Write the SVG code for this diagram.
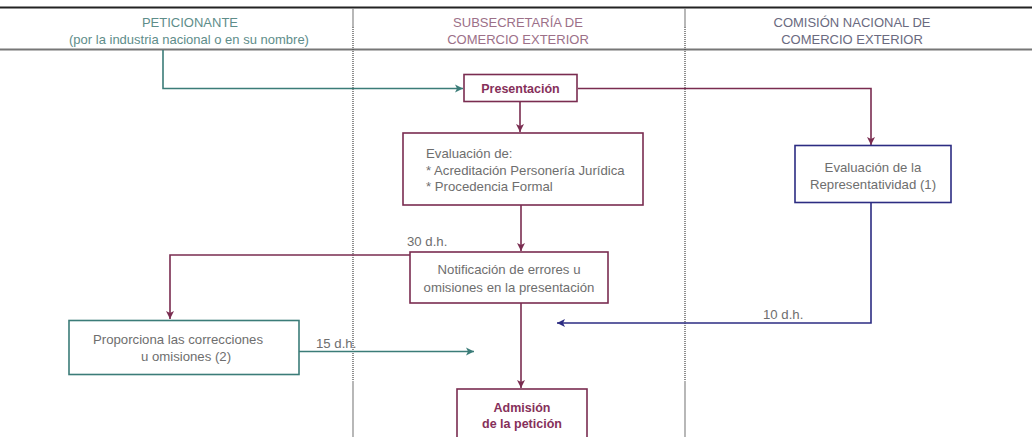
<svg xmlns="http://www.w3.org/2000/svg" width="1032" height="437" viewBox="0 0 1032 437">
<style>
text{font-family:"Liberation Sans",Arial,sans-serif;font-size:13.2px;fill:#6e6e6e}
.hdr{font-size:13px}
.b{font-weight:bold;fill:#86305a;font-size:12.5px}
.m{fill:none;stroke:#7a2c50;stroke-width:1.6}
.t{fill:none;stroke:#3b7c78;stroke-width:1.6}
.n{fill:none;stroke:#2c2c82;stroke-width:1.6}
.box{fill:#fff}
</style>
<defs>
<marker id="am" markerWidth="10" markerHeight="10" refX="9" refY="5" orient="auto" markerUnits="userSpaceOnUse"><path d="M1,1 L9,5 L1,9 L3,5 Z" fill="#7a2c50"/></marker>
<marker id="at" markerWidth="10" markerHeight="10" refX="9" refY="5" orient="auto" markerUnits="userSpaceOnUse"><path d="M1,1 L9,5 L1,9 L3,5 Z" fill="#3b7c78"/></marker>
<marker id="an" markerWidth="10" markerHeight="10" refX="9" refY="5" orient="auto" markerUnits="userSpaceOnUse"><path d="M1,1 L9,5 L1,9 L3,5 Z" fill="#2c2c82"/></marker>
</defs>
<rect width="1032" height="437" fill="#fff"/>
<g id="lanes">
<line x1="0" y1="7.5" x2="1032" y2="7.5" stroke="#222" stroke-width="2"/>
<line x1="0" y1="49.5" x2="1032" y2="49.5" stroke="#777" stroke-width="2"/>
<line x1="353" y1="8" x2="353" y2="27" stroke="#888" stroke-width="1.2"/>
<line x1="353" y1="27" x2="353" y2="381" stroke="#444" stroke-width="1.2" stroke-dasharray="1,1"/>
<line x1="353" y1="381" x2="353" y2="437" stroke="#888" stroke-width="1.2"/>
<line x1="685" y1="8" x2="685" y2="27" stroke="#888" stroke-width="1.2"/>
<line x1="685" y1="27" x2="685" y2="381" stroke="#444" stroke-width="1.2" stroke-dasharray="1,1"/>
<line x1="685" y1="381" x2="685" y2="437" stroke="#888" stroke-width="1.2"/>
<text class="hdr" x="190" y="27" text-anchor="middle" style="fill:#5e8d8a">PETICIONANTE</text>
<text class="hdr" x="189" y="44" text-anchor="middle" style="fill:#5e8d8a">(por la industria nacional o en su nombre)</text>
<text class="hdr" x="518" y="27" text-anchor="middle" style="fill:#9c7088">SUBSECRETARÍA DE</text>
<text class="hdr" x="518" y="44" text-anchor="middle" style="fill:#9c7088">COMERCIO EXTERIOR</text>
<text class="hdr" x="852" y="27" text-anchor="middle" style="fill:#6a6a80">COMISIÓN NACIONAL DE</text>
<text class="hdr" x="852" y="44" text-anchor="middle" style="fill:#6a6a80">COMERCIO EXTERIOR</text>
</g>
<g id="connectors">
<polyline class="t" points="163,50 163,88.5 463,88.5" marker-end="url(#at)"/>
<polyline class="m" points="578,88.5 871,88.5 871,145" marker-end="url(#am)"/>
<line class="m" x1="520" y1="102" x2="520" y2="132" marker-end="url(#am)"/>
<line class="m" x1="521" y1="205" x2="521" y2="251" marker-end="url(#am)"/>
<polyline class="m" points="410,255 170,255 170,319" marker-end="url(#am)"/>
<line class="m" x1="521" y1="303" x2="521" y2="388" marker-end="url(#am)"/>
<polyline class="n" points="871,202 871,323 557,323" marker-end="url(#an)"/>
<line class="t" x1="299" y1="351.5" x2="474" y2="351.5" marker-end="url(#at)"/>
<text x="407" y="246">30 d.h.</text>
<text x="763" y="319">10 d.h.</text>
<text x="316" y="348">15 d.h.</text>
</g>
<g id="presentacion">
<rect class="box" x="464" y="74.5" width="113" height="27" stroke="#7a2c50" stroke-width="1.6"/>
<text class="b" x="520.5" y="93" text-anchor="middle">Presentación</text>
</g>
<g id="evaluacion">
<rect class="box" x="403" y="133" width="240" height="72" stroke="#7a2c50" stroke-width="1.6"/>
<text x="426" y="158">Evaluación de:</text>
<text x="426" y="175">* Acreditación Personería Jurídica</text>
<text x="426" y="191">* Procedencia Formal</text>
</g>
<g id="representatividad">
<rect class="box" x="795" y="145.5" width="156" height="57" stroke="#2c2c82" stroke-width="1.6"/>
<text x="873" y="172" text-anchor="middle">Evaluación de la</text>
<text x="873" y="189" text-anchor="middle">Representatividad (1)</text>
</g>
<g id="notificacion">
<rect class="box" x="410" y="252" width="198" height="51" stroke="#7a2c50" stroke-width="1.6"/>
<text x="509" y="274" text-anchor="middle">Notificación de errores u</text>
<text x="509" y="292" text-anchor="middle">omisiones en la presentación</text>
</g>
<g id="proporciona">
<rect class="box" x="69" y="320.5" width="230" height="54" stroke="#3b7c78" stroke-width="1.6"/>
<text x="178" y="344" text-anchor="middle">Proporciona las correcciones</text>
<text x="186" y="361" text-anchor="middle">u omisiones (2)</text>
</g>
<g id="admision">
<rect class="box" x="457" y="389" width="130" height="60" stroke="#7a2c50" stroke-width="1.6"/>
<text class="b" x="522" y="412" text-anchor="middle">Admisión</text>
<text class="b" x="522" y="428" text-anchor="middle">de la petición</text>
</g>
</svg>
